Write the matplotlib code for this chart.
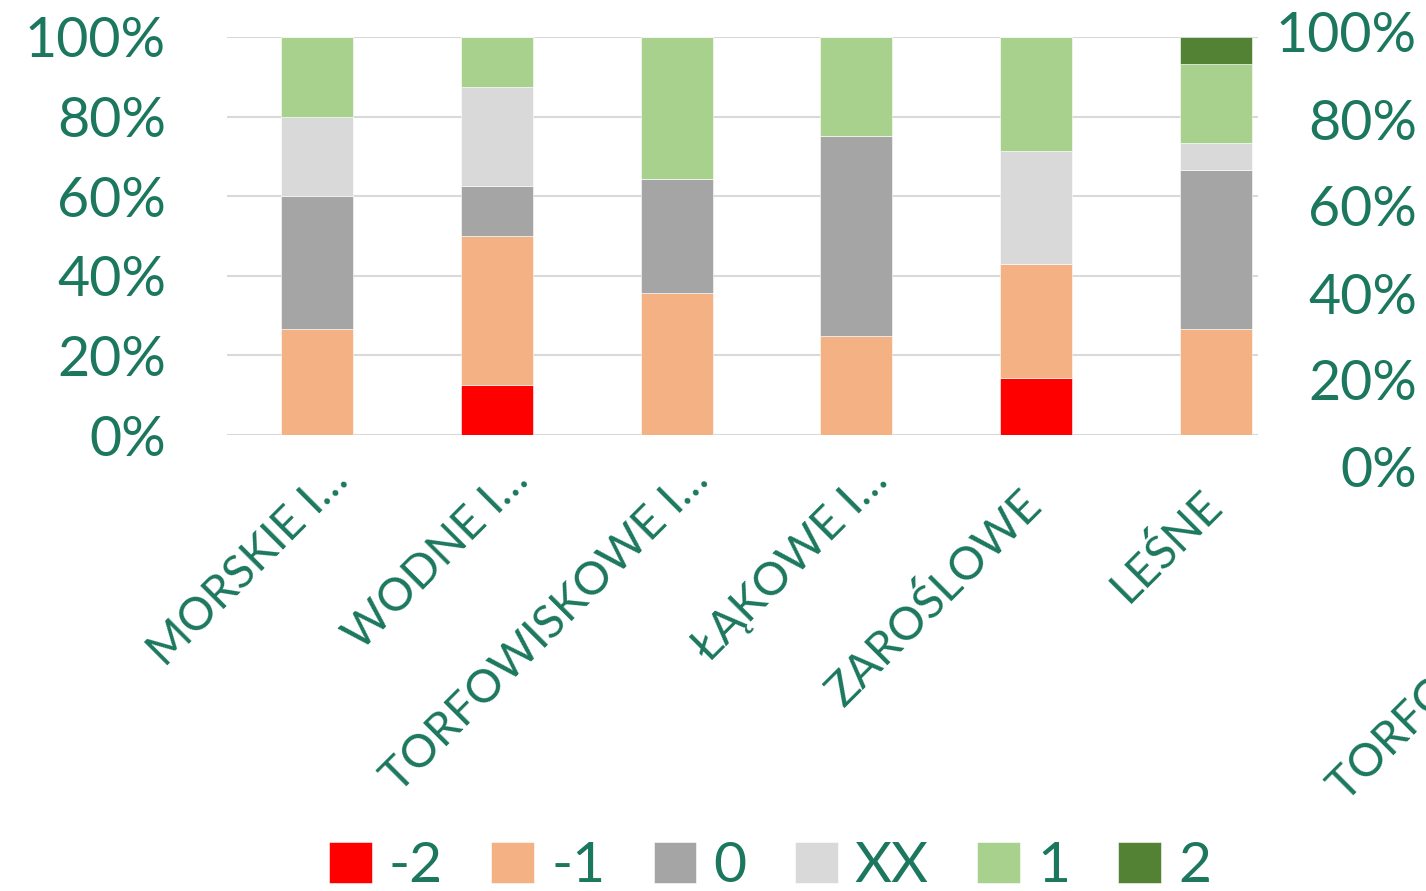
import numpy as np
import matplotlib.pyplot as plt
from matplotlib import transforms

# Categories and shares (%) per rating level
categories = ['MORSKIE I…', 'WODNE I…', 'TORFOWISKOWE I…', 'ŁĄKOWE I…', 'ZAROŚLOWE', 'LEŚNE']
levels = ['-2', '-1', '0', 'XX', '1', '2']
share_m2 = [0.0, 12.5, 0.0, 0.0, 14.3, 0.0]
share_m1 = [26.7, 37.5, 35.7, 25.0, 28.6, 26.7]
share_0 = [33.3, 12.5, 28.6, 50.0, 0.0, 40.0]
share_xx = [20.0, 25.0, 0.0, 0.0, 28.5, 6.6]
share_p1 = [20.0, 12.5, 35.7, 25.0, 28.6, 20.0]
share_p2 = [0.0, 0.0, 0.0, 0.0, 0.0, 6.7]
pct_ticks = [0, 20, 40, 60, 80, 100]

colors = ['#FF0000', '#F4B183', '#A5A5A5', '#D9D9D9', '#A9D18E', '#548235']
txt = '#1B775D'
plt.rcParams['font.family'] = ['Lato', 'DejaVu Sans']

fig = plt.figure(figsize=(14.26, 8.91), dpi=100)
ax = fig.add_axes([227 / 1426, 1 - 435 / 891, (1258 - 227) / 1426, (435 - 37) / 891])

series = [share_m2, share_m1, share_0, share_xx, share_p1, share_p2]
x = np.arange(len(categories))
bottom = np.zeros(len(categories))
for vals, lab, col in zip(series, levels, colors):
    vals = np.array(vals)
    ax.bar(x, vals, 0.4, bottom=bottom, color=col, label=lab, edgecolor='white', linewidth=0.4, zorder=3)
    bottom += vals

ax.set_xlim(-0.5, 5.233)
ax.set_ylim(0, 100)
ax.set_yticks(pct_ticks)
ax.set_yticklabels([f'{t}%' for t in pct_ticks])
ax.yaxis.grid(True, color='#D9D9D9', linewidth=1.5, zorder=0)
for s in ax.spines.values():
    s.set_visible(False)
ax.tick_params(axis='y', length=0, pad=44, labelsize=40, labelcolor=txt)
ax.tick_params(axis='x', length=0, pad=52)

ax.set_xticks(x)
ax.set_xticklabels(categories, rotation=45, ha='right', va='baseline', rotation_mode='anchor',
                   fontsize=33, color=txt)
# shortened labels (with ellipsis) sit a bit further along the baseline
for t in ax.get_xticklabels():
    if t.get_text().endswith('…'):
        off = transforms.ScaledTranslation(0.34, 0.25, fig.dpi_scale_trans)
    else:
        off = transforms.ScaledTranslation(0.08, 0, fig.dpi_scale_trans)
    t.set_transform(t.get_transform() + off)

# labels of the neighbouring chart on the right
ax2 = fig.add_axes([1417 / 1426, 1 - 467 / 891, 0.0005, 435 / 891])
ax2.set_ylim(0, 100)
ax2.set_yticks(pct_ticks)
ax2.set_yticklabels([f'{t}%' for t in pct_ticks])
ax2.set_xticks([])
for s in ax2.spines.values():
    s.set_visible(False)
ax2.tick_params(axis='y', length=0, pad=0, labelsize=40, labelcolor=txt)
ax2.patch.set_visible(False)

fig.text(1346 / 1426, 1 - 803 / 891, 'TORFOWISKOWE I…', rotation=45, fontsize=33, color=txt,
         ha='left', va='baseline', rotation_mode='anchor')

ax.legend(loc='center', bbox_to_anchor=(770 / 1426, 1 - 867 / 891), bbox_transform=fig.transFigure,
          ncol=6, frameon=False, fontsize=41, labelcolor=txt, handlelength=0.75, handleheight=0.75,
          handletextpad=0.3, columnspacing=0.85, borderpad=0)

fig.savefig('out.png', dpi=100)
